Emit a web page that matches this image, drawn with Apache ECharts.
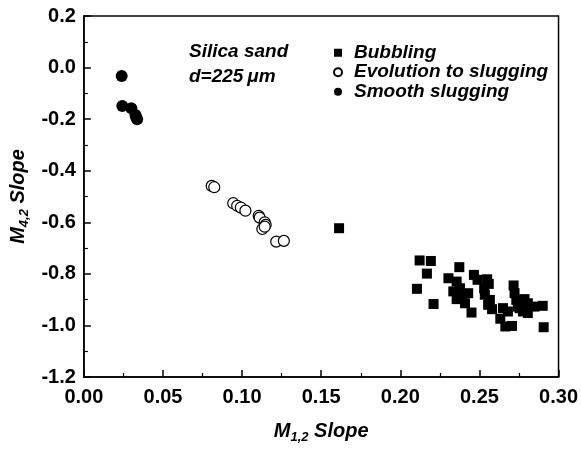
<!DOCTYPE html>
<html>
<head>
<meta charset="utf-8">
<script src="https://cdn.jsdelivr.net/npm/echarts@6/dist/echarts.min.js"></script>
<style>
  html, body { margin: 0; padding: 0; background: #fff; }
  #chart { width: 581px; height: 451px; }
</style>
</head>
<body>
<div id="chart"></div>
<script>
// data: [M1,2 slope, M4,2 slope]
var bubbling = [
  [0.1613, -0.623],
  [0.2122, -0.748], [0.2193, -0.750], [0.2168, -0.799], [0.2373, -0.774],
  [0.2105, -0.858], [0.2210, -0.917], [0.2304, -0.817], [0.2356, -0.830],
  [0.2335, -0.868], [0.2377, -0.856], [0.2429, -0.875], [0.2356, -0.898],
  [0.2409, -0.914], [0.2450, -0.950], [0.2465, -0.804], [0.2488, -0.823],
  [0.2549, -0.821], [0.2559, -0.839], [0.2530, -0.856], [0.2534, -0.881],
  [0.2566, -0.901], [0.2580, -0.937], [0.2632, -0.974], [0.2664, -1.004],
  [0.2706, -1.002], [0.2649, -0.933], [0.2716, -0.845], [0.2722, -0.875],
  [0.2733, -0.901], [0.2743, -0.927], [0.2775, -0.946], [0.2806, -0.952],
  [0.2785, -0.898], [0.2806, -0.914], [0.2848, -0.927], [0.2900, -0.924],
  [0.2906, -1.007], [0.2680, -0.946], [0.2754, -0.933], [0.2387, -0.885],
  [0.2555, -0.920]
];
var evolution = [
  [0.0808, -0.459], [0.0824, -0.464],
  [0.0944, -0.526], [0.0969, -0.536], [0.0992, -0.543], [0.1021, -0.555],
  [0.1105, -0.575], [0.1111, -0.582], [0.1143, -0.600], [0.1149, -0.610],
  [0.1128, -0.626], [0.1143, -0.617],
  [0.1216, -0.675], [0.1264, -0.672]
];
var smooth = [
  [0.0239, -0.033], [0.0243, -0.149], [0.0300, -0.158],
  [0.0326, -0.184], [0.0330, -0.192], [0.0337, -0.200]
];
var seriesNames = ['Bubbling', 'Evolution to slugging', 'Smooth slugging'];
var xRange = [0, 0.30];
var yRange = [-1.2, 0.2];

var FONT = 'Liberation Sans, Arial, Helvetica, sans-serif';

var chart = echarts.init(document.getElementById('chart'));

var axisCommon = {
  axisLine: { show: true, onZero: false, lineStyle: { color: '#000', width: 1.5 } },
  axisTick: { show: true, inside: true, length: 7, lineStyle: { color: '#000', width: 1.5 } },
  minorTick: { show: true, splitNumber: 2, length: 4, lineStyle: { color: '#000', width: 1.2 } },
  splitLine: { show: false },
  axisLabel: { color: '#000', fontWeight: 'bold', fontSize: 20, fontFamily: FONT }
};

var nameRich = {
  m: { fontSize: 20, fontWeight: 'bold', fontStyle: 'italic', fontFamily: FONT, color: '#000' },
  s: { fontSize: 13, fontWeight: 'bold', fontStyle: 'italic', fontFamily: FONT, color: '#000', padding: [12, 0, 0, 0] }
};

var option = {
  animation: false,
  backgroundColor: '#fff',
  grid: {
    left: 83, right: 20, top: 16, bottom: 74,
    show: true, borderColor: '#000', borderWidth: 1.5
  },
  legend: {
    data: seriesNames,
    orient: 'vertical',
    left: 328, top: 38,
    itemWidth: 8, itemHeight: 8,
    itemGap: 0,
    textStyle: { fontSize: 19, lineHeight: 19.5, fontWeight: 'bold', fontStyle: 'italic', fontFamily: FONT, color: '#000', padding: [0, 0, 0, 7] }
  },
  graphic: [{
    type: 'text', left: 189, top: 39,
    style: {
      text: 'Silica sand\nd=225\u2009\u03bcm',
      font: 'italic bold 19px ' + FONT,
      fill: '#000', lineHeight: 25
    }
  }],
  xAxis: Object.assign({}, axisCommon, {
    type: 'value', min: xRange[0], max: xRange[1], interval: 0.05,
    axisLabel: Object.assign({}, axisCommon.axisLabel, {
      margin: 10,
      formatter: function (v) { return v.toFixed(2); }
    }),
    name: '{m|M}{s|1,2}{m| Slope}',
    nameLocation: 'middle', nameGap: 42,
    nameTextStyle: { rich: nameRich }
  }),
  yAxis: Object.assign({}, axisCommon, {
    type: 'value', min: yRange[0], max: yRange[1], interval: 0.2,
    axisLabel: Object.assign({}, axisCommon.axisLabel, {
      margin: 8,
      formatter: function (v) { return v.toFixed(1); }
    }),
    name: '{m|M}{s|4,2}{m| Slope}',
    nameLocation: 'middle', nameGap: 47,
    nameTextStyle: { rich: nameRich }
  }),
  series: [
    {
      name: seriesNames[0], type: 'scatter', symbol: 'rect', symbolSize: 10,
      itemStyle: { color: '#000', opacity: 1 },
      data: bubbling
    },
    {
      name: seriesNames[1], type: 'scatter', symbol: 'circle', symbolSize: 11,
      itemStyle: { color: '#fff', borderColor: '#000', borderWidth: 1.2, opacity: 1 },
      data: evolution
    },
    {
      name: seriesNames[2], type: 'scatter', symbol: 'circle', symbolSize: 12,
      itemStyle: { color: '#000', opacity: 1 },
      data: smooth
    }
  ]
};

chart.setOption(option);
</script>
</body>
</html>
